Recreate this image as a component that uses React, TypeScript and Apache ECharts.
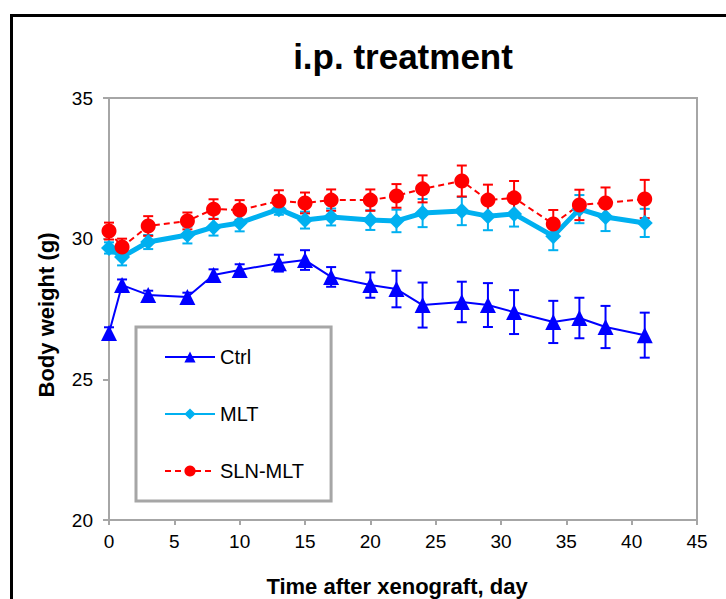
import React, { useEffect, useRef } from "react";
import * as echarts from "echarts";

const days = [0, 1, 3, 6, 8, 10, 13, 15, 17, 20, 22, 24, 27, 29, 31, 34, 36, 38, 41];

const ctrlMean = [26.65, 28.35, 28.0, 27.93, 28.71, 28.89, 29.13, 29.24, 28.64, 28.35, 28.21, 27.64, 27.75, 27.64, 27.39, 27.04, 27.18, 26.86, 26.57];
const ctrlErr = [0.2, 0.2, 0.15, 0.15, 0.2, 0.2, 0.3, 0.35, 0.35, 0.45, 0.65, 0.8, 0.72, 0.78, 0.78, 0.75, 0.72, 0.75, 0.8];

const mltMean = [29.67, 29.35, 29.88, 30.13, 30.41, 30.56, 31.05, 30.66, 30.77, 30.66, 30.63, 30.91, 30.98, 30.8, 30.88, 30.09, 31.05, 30.77, 30.56];
const mltErr = [0.2, 0.3, 0.25, 0.3, 0.3, 0.3, 0.2, 0.3, 0.3, 0.35, 0.4, 0.5, 0.5, 0.5, 0.45, 0.5, 0.5, 0.5, 0.5];

const slnMean = [30.27, 29.7, 30.45, 30.63, 31.05, 31.02, 31.34, 31.27, 31.37, 31.37, 31.52, 31.77, 32.05, 31.37, 31.45, 30.52, 31.2, 31.27, 31.41];
const slnErr = [0.3, 0.3, 0.35, 0.3, 0.35, 0.35, 0.38, 0.37, 0.38, 0.38, 0.42, 0.48, 0.55, 0.55, 0.6, 0.5, 0.54, 0.55, 0.68];

const seriesNames = ["Ctrl", "MLT", "SLN-MLT"];
const yTicks = { min: 20, max: 35, interval: 5 };
const xTicks = { min: 0, max: 45, interval: 5 };

const titleText = "i.p. treatment";
const xTitle = "Time after xenograft, day";
const yTitle = "Body weight (g)";

const FONT = "'Liberation Sans', Arial, sans-serif";
const GRAY = "#a6a6a6";

function pts(mean: number[]) {
  return days.map((d, i) => [d, mean[i]]);
}
function errPts(mean: number[], err: number[]) {
  return days.map((d, i) => [d, mean[i], err[i]]);
}

function errorSeries(name: string, data: number[][], color: string) {
  return {
    type: "custom",
    name: name + "-err",
    data,
    encode: { x: 0, y: 1 },
    renderItem: (params: any, api: any) => {
      const x = api.value(0);
      const y = api.value(1);
      const e = api.value(2);
      const top = api.coord([x, y + e]);
      const bot = api.coord([x, y - e]);
      const hw = 5;
      const style = { stroke: color, lineWidth: 2 };
      return {
        type: "group",
        children: [
          { type: "line", shape: { x1: top[0], y1: top[1], x2: bot[0], y2: bot[1] }, style },
          { type: "line", shape: { x1: top[0] - hw, y1: top[1], x2: top[0] + hw, y2: top[1] }, style },
          { type: "line", shape: { x1: bot[0] - hw, y1: bot[1], x2: bot[0] + hw, y2: bot[1] }, style },
        ],
      };
    },
  };
}

export default function App() {
  const ref = useRef<HTMLDivElement>(null);
  useEffect(() => {
    if (!ref.current) return;
    const chart = echarts.init(ref.current, undefined, { renderer: "svg" });
    chart.setOption({
      animation: false,
      backgroundColor: "#ffffff",
      textStyle: { fontFamily: FONT },
      grid: {
        left: 109,
        right: 29,
        top: 98,
        bottom: 79,
        show: true,
        borderColor: GRAY,
        borderWidth: 2,
      },
      xAxis: {
        type: "value",
        min: xTicks.min,
        max: xTicks.max,
        interval: xTicks.interval,
        splitLine: { show: false },
        axisLine: { show: true, lineStyle: { color: GRAY, width: 2 } },
        axisTick: { show: true, inside: false, length: 5, lineStyle: { color: GRAY, width: 2 } },
        axisLabel: { color: "#000", fontSize: 19, fontFamily: FONT, margin: 12 },
      },
      yAxis: {
        type: "value",
        min: yTicks.min,
        max: yTicks.max,
        interval: yTicks.interval,
        splitLine: { show: false },
        axisLine: { show: true, lineStyle: { color: GRAY, width: 2 } },
        axisTick: { show: true, inside: false, length: 6, lineStyle: { color: GRAY, width: 2 } },
        axisLabel: { color: "#000", fontSize: 19, fontFamily: FONT, margin: 16 },
      },
      legend: {
        data: seriesNames,
        orient: "vertical",
        left: 136,
        top: 327,
        width: 196,
        itemWidth: 50,
        itemHeight: 14,
        itemGap: 37,
        padding: [20, 27, 20, 28],
        backgroundColor: "#fff",
        borderColor: GRAY,
        borderWidth: 3,
        borderRadius: 0,
        textStyle: { color: "#000", fontSize: 20, fontFamily: FONT, padding: [0, 0, 0, 0] },
      },
      graphic: [
        {
          type: "rect",
          silent: true,
          shape: { x: 11.5, y: 15.5, width: 900, height: 900 },
          style: { fill: "none", stroke: "#000", lineWidth: 3 },
          z: 100,
        },
        {
          type: "text",
          x: 403,
          y: 56,
          style: {
            text: titleText,
            fill: "#000",
            font: `bold 35px ${FONT}`,
            textAlign: "center",
            textVerticalAlign: "middle",
          },
        },
        {
          type: "text",
          x: 397,
          y: 586,
          style: {
            text: xTitle,
            fill: "#000",
            font: `bold 22px ${FONT}`,
            textAlign: "center",
            textVerticalAlign: "middle",
          },
        },
        {
          type: "text",
          x: 46,
          y: 315,
          rotation: Math.PI / 2,
          style: {
            text: yTitle,
            fill: "#000",
            font: `bold 22px ${FONT}`,
            textAlign: "center",
            textVerticalAlign: "middle",
          },
        },
      ],
      series: [
        errorSeries("Ctrl", errPts(ctrlMean, ctrlErr), "#0000ff"),
        {
          type: "line",
          name: "Ctrl",
          data: pts(ctrlMean),
          symbol: "triangle",
          symbolSize: 16,
          itemStyle: { color: "#0000ff" },
          lineStyle: { color: "#0000ff", width: 2 },
        },
        errorSeries("MLT", errPts(mltMean, mltErr), "#00b0f0"),
        {
          type: "line",
          name: "MLT",
          data: pts(mltMean),
          symbol: "diamond",
          symbolSize: 16,
          itemStyle: { color: "#00b0f0" },
          lineStyle: { color: "#00b0f0", width: 5 },
        },
        errorSeries("SLN-MLT", errPts(slnMean, slnErr), "#ff0000"),
        {
          type: "line",
          name: "SLN-MLT",
          data: pts(slnMean),
          symbol: "circle",
          symbolSize: 15,
          itemStyle: { color: "#ff0000" },
          lineStyle: { color: "#ff0000", width: 2, type: [6, 4] },
        },
      ],
    });
    return () => chart.dispose();
  }, []);
  return <div ref={ref} style={{ position: "absolute", left: 0, top: 0, width: 726, height: 599 }} />;
}
